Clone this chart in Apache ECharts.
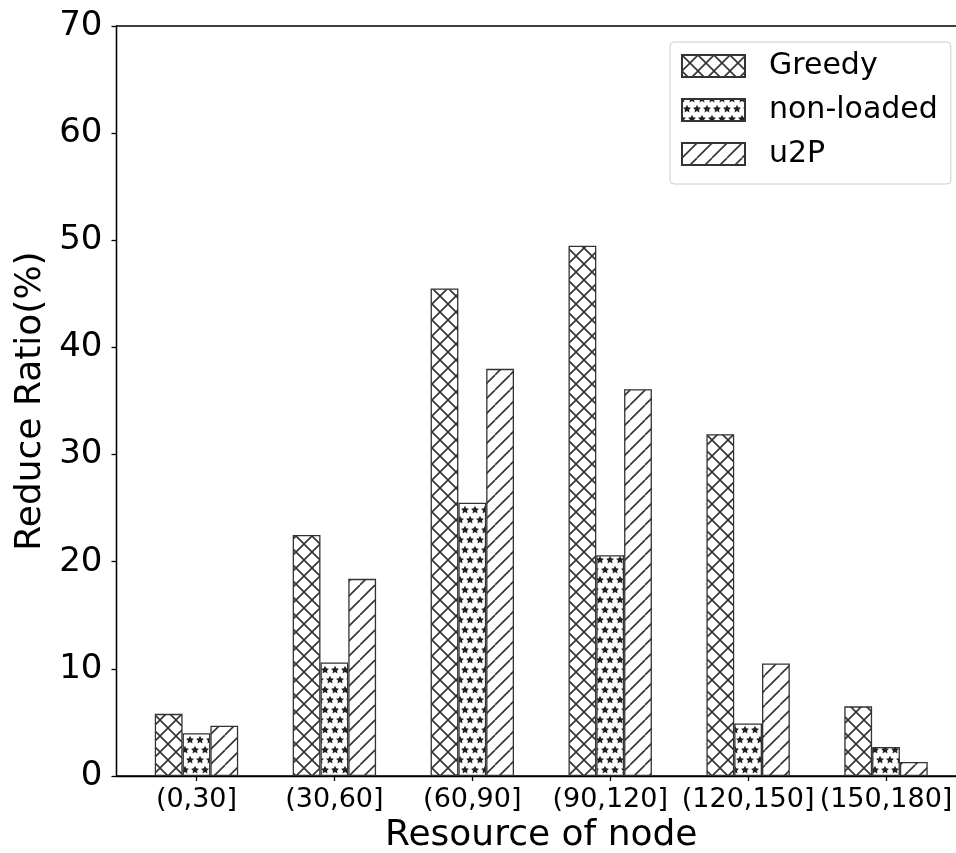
<!DOCTYPE html>
<html>
<head>
<meta charset="utf-8">
<script src="https://cdn.jsdelivr.net/npm/echarts@6/dist/echarts.min.js"></script>
<style>
  html, body { margin: 0; padding: 0; background: #fff; }
  #chart { width: 956px; height: 853px; }
</style>
</head>
<body>
<div id="chart"></div>
<script>
const categories = ['(0,30]', '(30,60]', '(60,90]', '(90,120]', '(120,150]', '(150,180]']
const greedy = [5.8, 22.5, 45.5, 49.5, 31.9, 6.5]
const nonLoaded = [4.0, 10.6, 25.5, 20.6, 4.9, 2.7]
const u2p = [4.7, 18.4, 38.0, 36.1, 10.5, 1.3]
const yTicks = [0, 10, 20, 30, 40, 50, 60, 70]

const ink = '#333'

// hatch tiles, drawn once and repeated like matplotlib hatches
const makeTile = (w, h, draw) => {
  const c = document.createElement('canvas')
  c.width = w
  c.height = h
  const ctx = c.getContext('2d')
  ctx.fillStyle = '#fff'
  ctx.fillRect(0, 0, w, h)
  draw(ctx, w, h)
  return { image: c, repeat: 'repeat' }
}

const line = (ctx, x1, y1, x2, y2) => {
  ctx.beginPath()
  ctx.moveTo(x1, y1)
  ctx.lineTo(x2, y2)
  ctx.stroke()
}

const star = (ctx, cx, cy, R, r) => {
  ctx.beginPath()
  for (let k = 0; k < 10; k++) {
    const a = -Math.PI / 2 + k * Math.PI / 5
    const rad = k % 2 ? r : R
    const x = cx + rad * Math.cos(a)
    const y = cy + rad * Math.sin(a)
    k ? ctx.lineTo(x, y) : ctx.moveTo(x, y)
  }
  ctx.closePath()
  ctx.fill()
}

const crossFill = makeTile(16, 16, (ctx, w, h) => {
  ctx.strokeStyle = ink
  ctx.lineWidth = 1.6
  for (const dx of [-w, 0, w]) {
    line(ctx, dx, 0, dx + w, h)
    line(ctx, dx, h, dx + w, 0)
  }
})

const starFill = makeTile(10, 20, (ctx, w, h) => {
  ctx.fillStyle = '#222'
  const pts = [[0, 0], [w, 0], [0, h], [w, h], [w / 2, h / 2]]
  pts.forEach(([x, y]) => star(ctx, x, y, 4.2, 2.1))
})

const diagFill = makeTile(15, 15, (ctx, w, h) => {
  ctx.strokeStyle = ink
  ctx.lineWidth = 1.6
  for (const dx of [-w, 0, w]) line(ctx, dx, h, dx + w, 0)
})

const seriesDefs = [
  ['Greedy', greedy, crossFill],
  ['non-loaded', nonLoaded, starFill],
  ['u2P', u2p, diagFill]
]

const axisLine = { color: '#000', width: 1.3 }
const catIdx = categories.map((c, i) => i)

const chart = echarts.init(document.getElementById('chart'), null, { renderer: 'canvas' })
chart.setOption({
  animation: false,
  textStyle: { fontFamily: 'DejaVu Sans' },
  grid: {
    left: 116.5, top: 26, width: 849.5, height: 750,
    show: true, borderColor: '#000', borderWidth: 1.3,
    containLabel: false, outerBoundsMode: 'none'
  },
  legend: {
    left: 670, top: 42, orient: 'vertical', icon: 'rect',
    itemWidth: 63, itemHeight: 22, itemGap: 14,
    padding: [9, 13, 15, 11],
    backgroundColor: 'rgba(255,255,255,0.8)',
    borderColor: '#ccc', borderWidth: 1, borderRadius: 4,
    textStyle: { fontSize: 30, color: '#000', padding: [0, 0, 0, 19] }
  },
  xAxis: {
    type: 'value', min: -0.58, max: 5.58,
    axisLine: { onZero: false, lineStyle: axisLine },
    axisTick: { show: true, customValues: catIdx, length: 5, lineStyle: axisLine },
    axisLabel: {
      customValues: catIdx, formatter: v => categories[v],
      fontSize: 27, color: '#000', margin: 10
    },
    splitLine: { show: false },
    name: 'Resource of node', nameLocation: 'middle', nameGap: 40,
    nameTextStyle: { fontSize: 36, color: '#000' }
  },
  yAxis: {
    type: 'value',
    min: yTicks[0], max: yTicks[yTicks.length - 1], interval: yTicks[1] - yTicks[0],
    axisLine: { show: true, onZero: false, lineStyle: axisLine },
    axisTick: { show: true, length: 5, lineStyle: axisLine },
    axisLabel: { fontSize: 34, color: '#000', margin: 14 },
    splitLine: { show: false },
    name: 'Reduce Ratio(%)', nameLocation: 'middle', nameGap: 53, nameRotate: 90,
    nameTextStyle: { fontSize: 36, color: '#000' }
  },
  series: seriesDefs.map(([name, vals, fill]) => ({
    name,
    type: 'bar',
    data: vals.map((v, i) => [i, v]),
    barWidth: 27.8,
    barGap: '0%',
    itemStyle: { color: fill, borderColor: ink, borderWidth: 1.3 }
  }))
})
</script>
</body>
</html>
